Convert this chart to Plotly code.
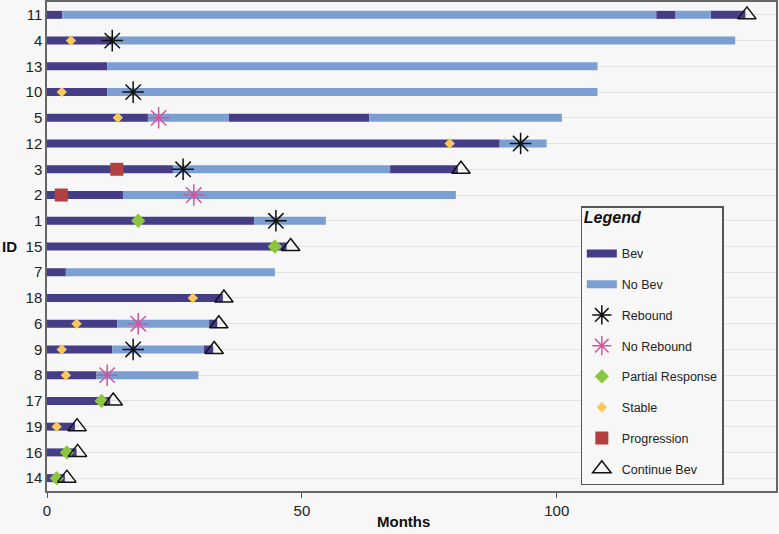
import plotly.graph_objects as go

# Patient IDs, top to bottom
ids = ["11", "4", "13", "10", "5", "12", "3", "2", "1", "15", "7", "18", "6", "9", "8", "17", "19", "16", "14"]

# Treatment segments (months)
seg_id = ["11", "11", "11", "11", "11",
          "4", "4",
          "13", "13",
          "10", "10",
          "5", "5", "5", "5",
          "12", "12",
          "3", "3", "3",
          "2", "2",
          "1", "1",
          "15",
          "7", "7",
          "18",
          "6", "6", "6",
          "9", "9", "9",
          "8", "8",
          "17", "19", "16", "14"]
seg_start = [0, 3, 119.5, 123.3, 130.2,
             0, 12.8,
             0, 11.8,
             0, 11.8,
             0, 19.8, 35.7, 63.2,
             0, 88.8,
             0, 24.7, 67.3,
             0, 14.9,
             0, 40.6,
             0,
             0, 3.7,
             0,
             0, 13.8, 31.8,
             0, 12.8, 30.8,
             0, 9.7,
             0, 0, 0, 0]
seg_end = [3, 119.5, 123.3, 130.2, 137.0,
           12.8, 135.0,
           11.8, 108.0,
           11.8, 108.0,
           19.8, 35.7, 63.2, 101.0,
           88.8, 98.0,
           24.7, 67.3, 80.6,
           14.9, 80.2,
           40.6, 54.7,
           47.0,
           3.7, 44.7,
           34.5,
           13.8, 31.8, 33.4,
           12.8, 30.8, 32.6,
           9.7, 29.7,
           12.4, 5.5, 5.8, 3.5]
seg_type = ["Bev", "No Bev", "Bev", "No Bev", "Bev",
            "Bev", "No Bev",
            "Bev", "No Bev",
            "Bev", "No Bev",
            "Bev", "No Bev", "Bev", "No Bev",
            "Bev", "No Bev",
            "Bev", "No Bev", "Bev",
            "Bev", "No Bev",
            "Bev", "No Bev",
            "Bev",
            "Bev", "No Bev",
            "Bev",
            "Bev", "No Bev", "Bev",
            "Bev", "No Bev", "Bev",
            "Bev", "No Bev",
            "Bev", "Bev", "Bev", "Bev"]

# Events
rebound_id = ["4", "10", "12", "3", "1", "9"]
rebound_x = [12.8, 16.9, 92.9, 26.7, 44.9, 16.9]
norebound_id = ["5", "2", "6", "8"]
norebound_x = [21.9, 28.8, 17.9, 11.8]
partial_id = ["1", "15", "17", "16", "14"]
partial_x = [17.9, 44.7, 10.7, 3.9, 1.9]
stable_id = ["4", "10", "5", "12", "18", "6", "9", "8", "19"]
stable_x = [4.7, 2.9, 13.9, 79.0, 28.6, 5.8, 2.9, 3.7, 1.9]
progression_id = ["3", "2"]
progression_x = [13.7, 2.8]
continue_id = ["11", "3", "15", "18", "6", "9", "17", "19", "16", "14"]
continue_x = [137.3, 81.2, 47.8, 34.7, 33.7, 32.8, 13.0, 5.9, 6.0, 3.9]

FONT = "Liberation Sans, Arial, Helvetica, sans-serif"
BG = "#f7f7f7"

fig = go.Figure()

bar_colors = {"Bev": "#463d87", "No Bev": "#7c9fd3"}
for t in ["Bev", "No Bev"]:
    xs, ys = [], []
    for i, s, e, ty in zip(seg_id, seg_start, seg_end, seg_type):
        if ty == t:
            xs += [s, e, None]
            ys += [i, i, None]
    fig.add_trace(go.Scatter(x=xs, y=ys, mode="lines", name=t, legendgroup=t,
                             line=dict(color=bar_colors[t], width=8),
                             hoverinfo="skip"))

def add_markers(name, yv, xv, symbol, size, color, line_color=None, line_width=0):
    fig.add_trace(go.Scatter(
        x=xv, y=yv, mode="markers", name=name, legendgroup=name,
        marker=dict(symbol=symbol, size=size, color=color,
                    line=dict(color=line_color if line_color else color, width=line_width))))

add_markers("Rebound", rebound_id, rebound_x, "asterisk-open", 18, "#111111", "#111111", 1.5)
add_markers("No Rebound", norebound_id, norebound_x, "asterisk-open", 18, "#d4559f", "#d4559f", 1.5)
add_markers("Partial Response", partial_id, partial_x, "diamond", 11, "#8cc63f")
add_markers("Stable", stable_id, stable_x, "diamond", 8, "#f9c75a")
add_markers("Progression", progression_id, progression_x, "square", 13, "#b3403f")
add_markers("Continue Bev", continue_id, continue_x, "triangle-up-open", 16, "#111111", "#111111", 1.5)

fig.update_layout(
    width=779, height=534,
    margin=dict(l=47, r=3, t=2, b=43, autoexpand=False),
    paper_bgcolor=BG, plot_bgcolor=BG,
    font=dict(family=FONT, size=14, color="#222222"),
    showlegend=True,
    legend=dict(
        title=dict(text="<span style='font-size:16px'><b><i>Legend</i></b></span><br> ",
                   font=dict(size=12, color="#111111")),
        x=0.732, y=0.582, xanchor="left", yanchor="top",
        bgcolor=BG, bordercolor="#555555", borderwidth=1.2,
        font=dict(size=12.5, color="#222222"),
        tracegroupgap=11.5, traceorder="grouped",
        itemclick=False,
    ),
    xaxis=dict(
        range=[0, 143], tickvals=[0, 50, 100], ticks="outside", ticklen=5,
        tickcolor="#555555", showgrid=False, zeroline=False, automargin=False,
        showline=True, linecolor="#666666", linewidth=1.5, mirror=True,
        tickfont=dict(size=15),
    ),
    yaxis=dict(
        type="category", categoryorder="array", categoryarray=ids,
        range=[18.5, -0.5], automargin=False,
        showgrid=True, gridcolor="#e2e2e2", gridwidth=1,
        showline=True, linecolor="#666666", linewidth=1.5, mirror=True,
        ticks="", tickfont=dict(size=15),
    ),
)

fig.add_annotation(text="<b>ID</b>", x=0.0, xref="paper", xshift=-47, xanchor="left",
                   y=ids.index("15"), yref="y", showarrow=False,
                   font=dict(size=15, color="#111111"))
fig.add_annotation(text="<b>Months</b>", x=0.489, xref="paper", xanchor="center",
                   y=-0.063, yref="paper", yanchor="middle", showarrow=False,
                   font=dict(size=15, color="#111111"))

fig.write_html("out.html", config={"displayModeBar": False},
               post_script="document.body.style.margin='0';document.body.style.overflow='hidden';document.body.style.background='#f7f7f7';")
